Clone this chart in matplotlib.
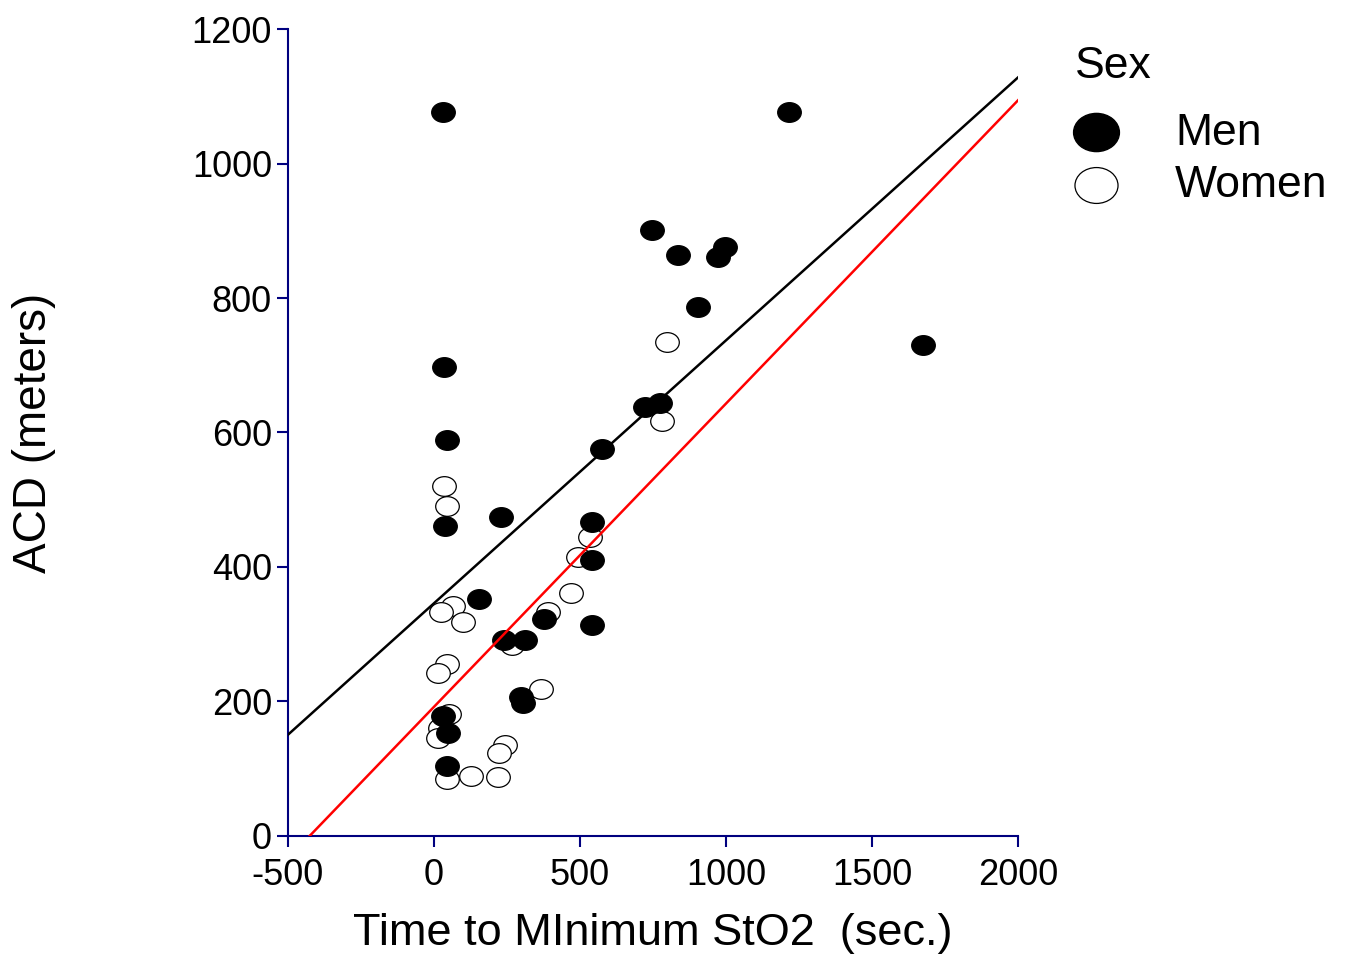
import numpy as np
import matplotlib.pyplot as plt
from matplotlib.path import Path
from matplotlib.transforms import Affine2D
from matplotlib.lines import Line2D

plt.rcParams['font.family'] = ['Liberation Sans', 'DejaVu Sans']
plt.rcParams['axes.unicode_minus'] = False

# time to minimum StO2 (sec.) and ACD (meters)
men_x = [31, 1216, 747, 836, 973, 997, 905, 1675, 34, 45, 723, 774, 574,
         37, 231, 541, 541, 154, 378, 541, 241, 312, 298, 306, 30, 49, 43]
men_y = [1076, 1076, 901, 864, 861, 876, 787, 730, 697, 589, 638, 644, 576,
         461, 474, 467, 411, 352, 322, 313, 292, 292, 206, 197, 179, 153, 104]

women_x = [797, 780, 35, 46, 534, 494, 471, 64, 23, 100, 391, 266, 46, 15,
           366, 52, 21, 13, 244, 224, 43, 126, 220]
women_y = [734, 617, 520, 491, 445, 415, 361, 342, 333, 318, 333, 284, 255, 243,
           218, 181, 160, 145, 135, 124, 84, 89, 88]

# fitted lines: (intercept, slope)
black_fit = (346, 0.391)
red_fit = (192, 0.451)

xticks = [-500, 0, 500, 1000, 1500, 2000]
yticks = [0, 200, 400, 600, 800, 1000, 1200]

navy = '#00007f'
ellipse = Path.unit_circle().transformed(Affine2D().scale(1.2, 1.0))

fig = plt.figure(figsize=(13.48, 9.61), dpi=100)
ax = fig.add_axes([0.2136, 0.1301, 0.5416, 0.8397])

ax.plot(women_x, women_y, linestyle='none', marker=ellipse, markersize=17,
        markerfacecolor='white', markeredgecolor='black', markeredgewidth=0.9,
        zorder=2)
ax.plot(men_x, men_y, linestyle='none', marker=ellipse, markersize=17,
        markerfacecolor='black', markeredgecolor='black', markeredgewidth=0.9,
        zorder=3)

xs = np.array([-500, 2000])
ax.plot(xs, black_fit[0] + black_fit[1] * xs, color='black', lw=1.8, zorder=4)
xr = np.array([-red_fit[0] / red_fit[1], 2000])
ax.plot(xr, red_fit[0] + red_fit[1] * xr, color='red', lw=1.8, zorder=4)

ax.set_xlim(-500, 2000)
ax.set_ylim(0, 1200)
ax.set_xticks(xticks)
ax.set_yticks(yticks)
ax.tick_params(colors=navy, labelcolor='black', labelsize=26, length=8,
               width=1.5, direction='out')
ax.tick_params(axis='x', pad=8)
for s in ['top', 'right']:
    ax.spines[s].set_visible(False)
for s in ['left', 'bottom']:
    ax.spines[s].set_color(navy)
    ax.spines[s].set_linewidth(1.5)

ax.set_xlabel('Time to MInimum StO2  (sec.)', fontsize=32.5)
ax.xaxis.set_label_coords(0.5, -0.096)
ax.set_ylabel('ACD (meters)', fontsize=33)
ax.yaxis.set_label_coords(-0.318, 0.5)

# legend drawn by hand
fig.text(0.7975, 0.9313, 'Sex', fontsize=32, ha='left', va='center')
fig.add_artist(Line2D([0.8131], [0.8626], transform=fig.transFigure,
                      linestyle='none', marker=ellipse, markersize=33,
                      markerfacecolor='black', markeredgecolor='black'))
fig.add_artist(Line2D([0.8131], [0.8075], transform=fig.transFigure,
                      linestyle='none', marker=ellipse, markersize=31,
                      markerfacecolor='white', markeredgecolor='black',
                      markeredgewidth=0.9))
fig.text(0.8717, 0.8616, 'Men', fontsize=32, ha='left', va='center')
fig.text(0.8717, 0.8065, 'Women', fontsize=32, ha='left', va='center')

fig.savefig('out.png', dpi=100)
